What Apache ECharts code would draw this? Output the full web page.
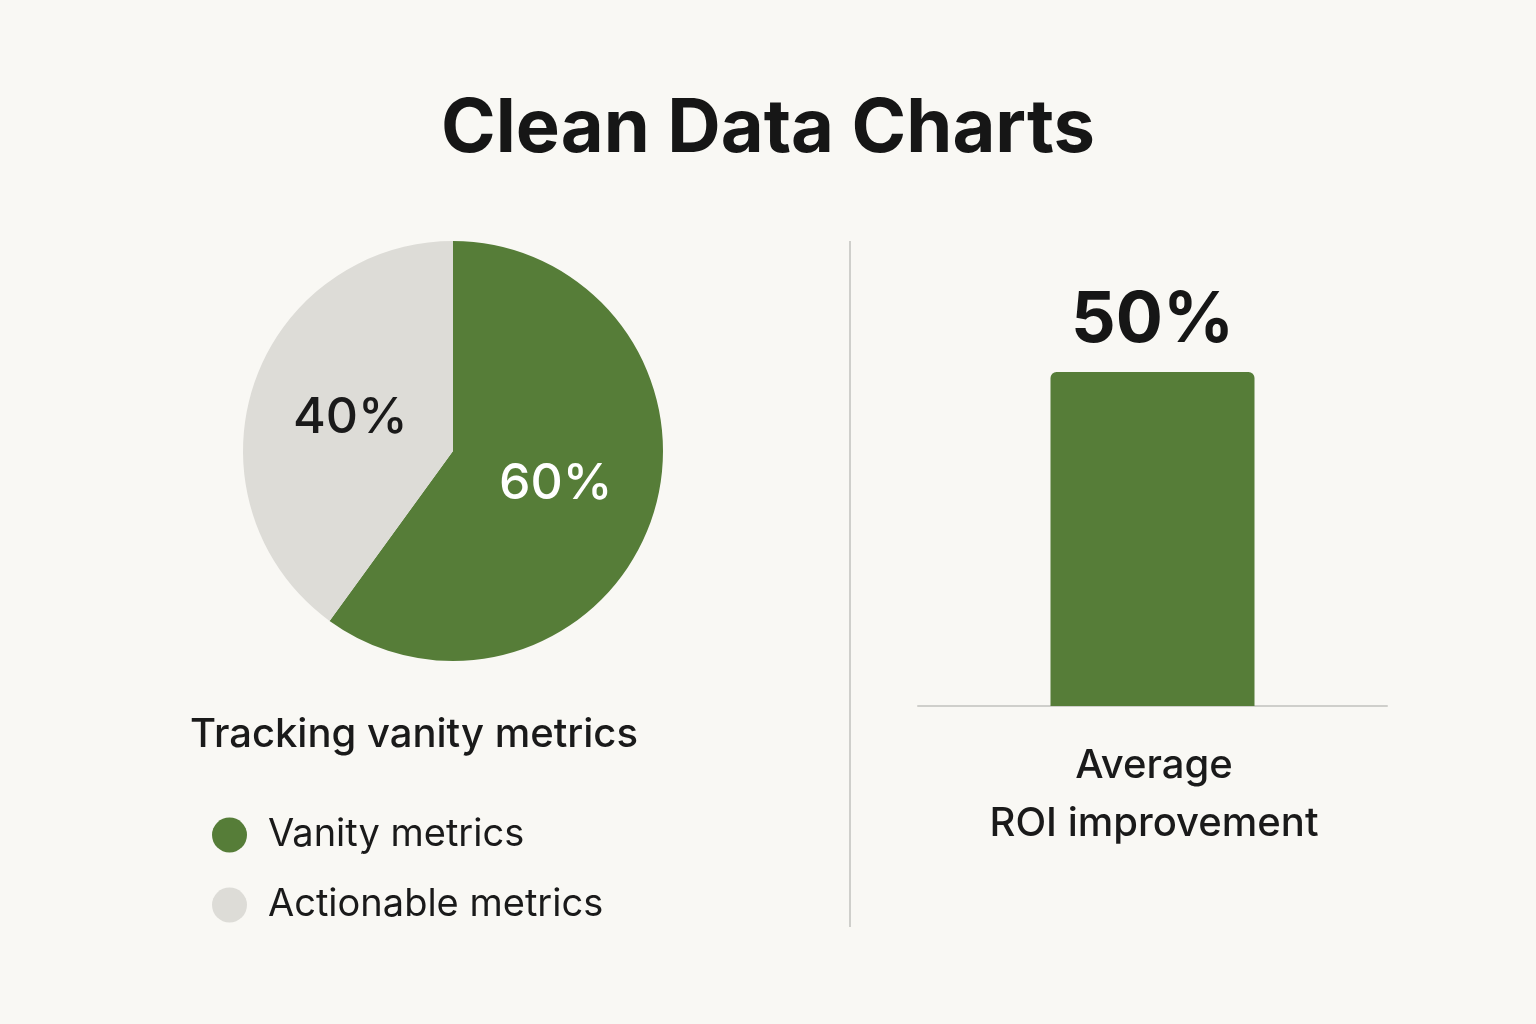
<!DOCTYPE html>
<html>
<head>
<meta charset="utf-8">
<title>Clean Data Charts</title>
<script src="https://cdn.jsdelivr.net/npm/echarts@6/dist/echarts.min.js"></script>
<style>
html,body{margin:0;padding:0;background:#f9f8f4;}
#chart{width:1536px;height:1024px;}
</style>
</head>
<body>
<div id="chart"></div>
<script>
// pie data
var pieNames = ['Vanity metrics', 'Actionable metrics'];
var pieValues = [60, 40];
// bar data
var barCats = ['Average ROI improvement'];
var barValues = [50];

var green = '#567d38';
var grey = '#dddcd7';
var font = 'Inter, "Noto Sans", sans-serif';

var myChart = echarts.init(document.getElementById('chart'));
var option = {
    backgroundColor: '#f9f8f4',
    title: {
        text: 'Clean Data Charts',
        left: 'center',
        top: 88,
        textStyle: {fontFamily: font, fontSize: 74, fontWeight: 'bold', color: '#161616'}
    },
    legend: {
        orient: 'vertical',
        left: 207,
        top: 811,
        icon: 'circle',
        itemWidth: 35,
        itemHeight: 35,
        itemGap: 32,
        textStyle: {fontFamily: font, fontSize: 38, color: '#1a1a1a', padding: [0, 0, 0, 16]},
        data: pieNames
    },
    grid: {left: 918, width: 469, top: 372, bottom: 318},
    xAxis: {
        type: 'category',
        data: barCats,
        axisLine: {lineStyle: {color: '#cfcfcb', width: 2}},
        axisTick: {show: false},
        axisLabel: {show: false}
    },
    yAxis: {type: 'value', min: 0, max: 50, show: false},
    graphic: [
        {type: 'line', shape: {x1: 850, y1: 241, x2: 850, y2: 927}, style: {stroke: '#cfcfcb', lineWidth: 2}},
        {type: 'text', left: 'center', x: 0, style: {text: ''}},
        {type: 'text', x: 414, y: 735, style: {text: 'Tracking vanity metrics', font: '500 40px ' + font, fill: '#1a1a1a', textAlign: 'center', textVerticalAlign: 'middle'}},
        {type: 'text', x: 1154, y: 795, style: {text: 'Average\nROI improvement', font: '500 40px ' + font, fill: '#1a1a1a', textAlign: 'center', textVerticalAlign: 'middle', lineHeight: 58}}
    ],
    series: [
        {
            type: 'pie',
            center: [453, 451],
            radius: 210,
            startAngle: 90,
            clockwise: true,
            label: {
                position: 'inside',
                fontFamily: font,
                fontSize: 50,
                fontWeight: 500,
                formatter: '{c}%'
            },
            labelLine: {show: false},
            data: [
                {name: pieNames[0], value: pieValues[0], itemStyle: {color: green}, label: {color: '#ffffff'}},
                {name: pieNames[1], value: pieValues[1], itemStyle: {color: grey}, label: {color: '#1a1a1a'}}
            ]
        },
        {
            type: 'bar',
            data: barValues,
            barWidth: 204,
            itemStyle: {color: green, borderRadius: [6, 6, 0, 0]},
            label: {
                show: true,
                position: 'top',
                distance: 16,
                formatter: '{c}%',
                fontFamily: font,
                fontSize: 70,
                fontWeight: 'bold',
                color: '#161616'
            }
        }
    ]
};
myChart.setOption(option);
</script>
</body>
</html>
